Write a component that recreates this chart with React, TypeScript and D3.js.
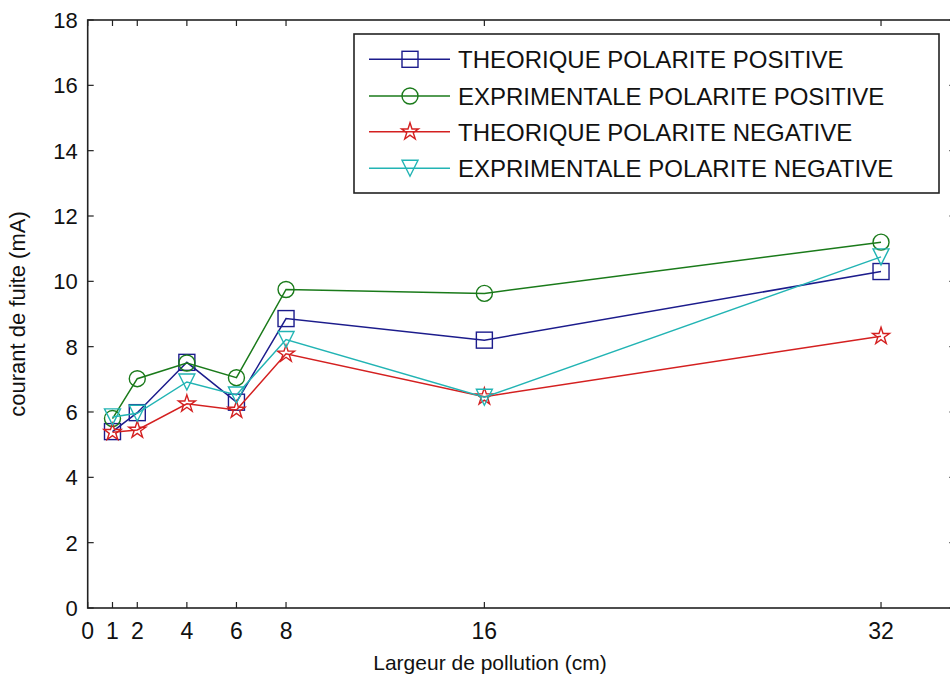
import React from "react";
import * as d3 from "d3";

const xValues = [1, 2, 4, 6, 8, 16, 32];
const theoPos = [5.4, 5.98, 7.52, 6.3, 8.86, 8.2, 10.3];
const expPos = [5.8, 7.02, 7.5, 7.05, 9.75, 9.63, 11.2];
const theoNeg = [5.38, 5.45, 6.25, 6.06, 7.78, 6.47, 8.32];
const expNeg = [5.85, 5.96, 6.92, 6.52, 8.22, 6.45, 10.75];
const seriesNames = [
  "THEORIQUE POLARITE POSITIVE",
  "EXPRIMENTALE POLARITE POSITIVE",
  "THEORIQUE POLARITE NEGATIVE",
  "EXPRIMENTALE POLARITE NEGATIVE",
];
const seriesColors = ["#1c1c8c", "#1a7a1a", "#d42020", "#22b4b4"];
const seriesMarkers = ["square", "circle", "star", "triangleDown"];
const xTicks = [0, 1, 2, 4, 6, 8, 16, 32];
const yTicks = [0, 2, 4, 6, 8, 10, 12, 14, 16, 18];
const xLabel = "Largeur de pollution (cm)";
const yLabel = "courant de fuite (mA)";

const FONT = "'Liberation Sans', Arial, sans-serif";

function Marker({ type, cx, cy, color }: { type: string; cx: number; cy: number; color: string }) {
  const common = { fill: "none", stroke: color, strokeWidth: 1.4 };
  if (type === "square") return <rect x={cx - 8} y={cy - 8} width={16} height={16} {...common} />;
  if (type === "circle") return <circle cx={cx} cy={cy} r={8} {...common} />;
  if (type === "star") {
    const p = d3.symbol(d3.symbolStar, 90)();
    return <path d={p || ""} transform={`translate(${cx},${cy})`} {...common} />;
  }
  const h = 8;
  return <path d={`M${cx - h},${cy - h}L${cx + h},${cy - h}L${cx},${cy + h}Z`} {...common} />;
}

export default function App() {
  const W = 950, H = 684;
  const x = d3.scaleLinear().domain([0, 35]).range([87.7, 955.4]);
  const y = d3.scaleLinear().domain([0, 18]).range([608, 20]);
  const data = [theoPos, expPos, theoNeg, expNeg];
  const line = d3.line<number>().x((_, i) => x(xValues[i])).y((d) => y(d));
  const tk = 6;
  const [xl, xr] = x.range();
  const [yb, yt] = y.range();
  const legX = 354, legY = 34, legW = 585, legH = 159;
  const rows = [59.3, 96, 131.7, 168.3];
  return (
    <svg width={W} height={H} style={{ display: "block", position: "absolute", left: 0, top: 0, background: "#fff" }}>
      <rect x={0} y={0} width={W} height={H} fill="#fff" />
      <rect x={xl} y={yt} width={xr - xl} height={yb - yt} fill="none" stroke="#222" strokeWidth={1.6} />
      {xTicks.map((t) => (
        <g key={"xt" + t}>
          <line x1={x(t)} x2={x(t)} y1={yb} y2={yb - tk} stroke="#222" strokeWidth={1.2} />
          <line x1={x(t)} x2={x(t)} y1={yt} y2={yt + tk} stroke="#222" strokeWidth={1.2} />
          <text x={x(t)} y={yb + 31} textAnchor="middle" fontFamily={FONT} fontSize={23} fill="#111">{t}</text>
        </g>
      ))}
      {yTicks.map((t) => (
        <g key={"yt" + t}>
          <line x1={xl} x2={xl + tk} y1={y(t)} y2={y(t)} stroke="#222" strokeWidth={1.2} />
          <line x1={xr} x2={xr - tk} y1={y(t)} y2={y(t)} stroke="#222" strokeWidth={1.2} />
          <text x={xl - 10} y={y(t) + 8} textAnchor="end" fontFamily={FONT} fontSize={22} fill="#111">{t}</text>
        </g>
      ))}
      <text x={490} y={670} textAnchor="middle" fontFamily={FONT} fontSize={21} fill="#111">{xLabel}</text>
      <text transform={`translate(25,${(yb + yt) / 2}) rotate(-90)`} textAnchor="middle" fontFamily={FONT} fontSize={22} fill="#111">{yLabel}</text>
      {data.map((s, k) => (
        <g key={"s" + k}>
          <path d={line(s) || ""} fill="none" stroke={seriesColors[k]} strokeWidth={1.5} />
          {s.map((v, i) => (
            <Marker key={i} type={seriesMarkers[k]} cx={x(xValues[i])} cy={y(v)} color={seriesColors[k]} />
          ))}
        </g>
      ))}
      <rect x={legX} y={legY} width={legW} height={legH} fill="#fff" stroke="#222" strokeWidth={1.6} />
      {seriesNames.map((n, k) => (
        <g key={"l" + k}>
          <line x1={369} x2={450} y1={rows[k]} y2={rows[k]} stroke={seriesColors[k]} strokeWidth={1.5} />
          <Marker type={seriesMarkers[k]} cx={410} cy={rows[k]} color={seriesColors[k]} />
          <text x={458} y={rows[k] + 9} fontFamily={FONT} fontSize={24} fill="#111">{n}</text>
        </g>
      ))}
    </svg>
  );
}
